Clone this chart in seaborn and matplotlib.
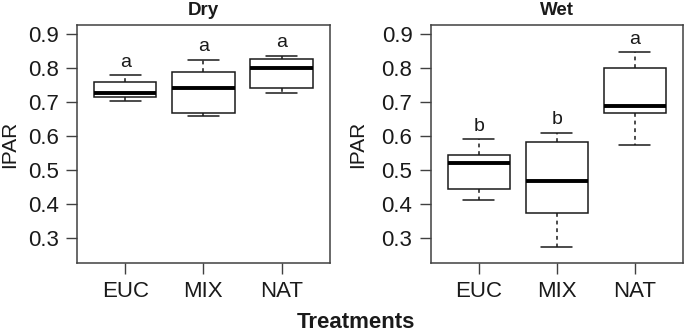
import matplotlib
matplotlib.use("Agg")
import matplotlib.pyplot as plt
import numpy as np
import pandas as pd
import seaborn as sns

TREATMENTS = ["EUC", "MIX", "NAT"]

DRY_EUC = [0.701, 0.715, 0.726, 0.758, 0.777]
DRY_MIX = [0.659, 0.666, 0.741, 0.787, 0.823]
DRY_NAT = [0.726, 0.741, 0.799, 0.826, 0.835]

WET_EUC = [0.412, 0.443, 0.519, 0.543, 0.590]
WET_MIX = [0.272, 0.373, 0.467, 0.581, 0.609]
WET_NAT = [0.573, 0.667, 0.687, 0.799, 0.845]

DRY_LETTERS = ["a", "a", "a"]
WET_LETTERS = ["b", "b", "a"]

Y_TICKS = [0.3, 0.4, 0.5, 0.6, 0.7, 0.8, 0.9]


def build_frame(values_by_group: list[list[float]]) -> pd.DataFrame:
    rows = []
    for name, values in zip(TREATMENTS, values_by_group):
        for value in values:
            rows.append({"treatment": name, "IPAR": value})
    return pd.DataFrame(rows)


def draw_panel(ax, frame: pd.DataFrame, letters: list[str], title: str, label_x: float) -> None:
    sns.boxplot(
        data=frame,
        x="treatment",
        y="IPAR",
        order=TREATMENTS,
        color="white",
        linecolor="#1a1a1a",
        linewidth=1.1,
        width=0.8,
        whis=(0, 100),
        showfliers=False,
        medianprops={"linewidth": 2.8, "color": "black"},
        whiskerprops={"linestyle": (0, (2.5, 2.5))},
        ax=ax,
    )
    tops = frame.groupby("treatment")["IPAR"].max().reindex(TREATMENTS)
    for i, (letter, top) in enumerate(zip(letters, tops)):
        ax.text(i, top + 0.025, letter, ha="center", va="baseline", fontsize=14, color="#1a1a1a")

    ax.set_xlim(-0.62, 2.62)
    ax.set_ylim(0.2247, 0.9265)
    ax.set_yticks(Y_TICKS)
    ax.set_yticklabels([f"{t:.1f}" for t in Y_TICKS])
    ax.set_xlabel("")
    ax.set_ylabel("IPAR", fontsize=15, color="#1a1a1a")
    ax.yaxis.set_label_coords(label_x, 0.5)
    ax.set_title(title, fontsize=13.5, fontweight="bold", pad=7, color="#1a1a1a")
    ax.tick_params(axis="both", labelsize=16, length=8, width=1, color="#404040",
                   labelcolor="#1a1a1a", pad=5)
    for spine in ax.spines.values():
        spine.set_visible(True)
        spine.set_color("#404040")
        spine.set_linewidth(1.1)


def main() -> None:
    sns.set_theme(style="ticks")
    plt.rcParams["font.family"] = ["Liberation Sans", "DejaVu Sans"]

    fig = plt.figure(figsize=(6.85, 3.32), dpi=100)
    ax_dry = fig.add_axes([0.112, 0.207, 0.3698, 0.7187])
    ax_wet = fig.add_axes([0.6285, 0.207, 0.3686, 0.7187])

    draw_panel(ax_dry, build_frame([DRY_EUC, DRY_MIX, DRY_NAT]), DRY_LETTERS, "Dry", -0.226)
    draw_panel(ax_wet, build_frame([WET_EUC, WET_MIX, WET_NAT]), WET_LETTERS, "Wet", -0.251)

    fig.text(356 / 685, 4 / 332, "Treatments", ha="center", va="baseline",
             fontsize=16, fontweight="bold", color="#1a1a1a")

    fig.savefig("out.png", dpi=100)
    plt.close(fig)


if __name__ == "__main__":
    main()
